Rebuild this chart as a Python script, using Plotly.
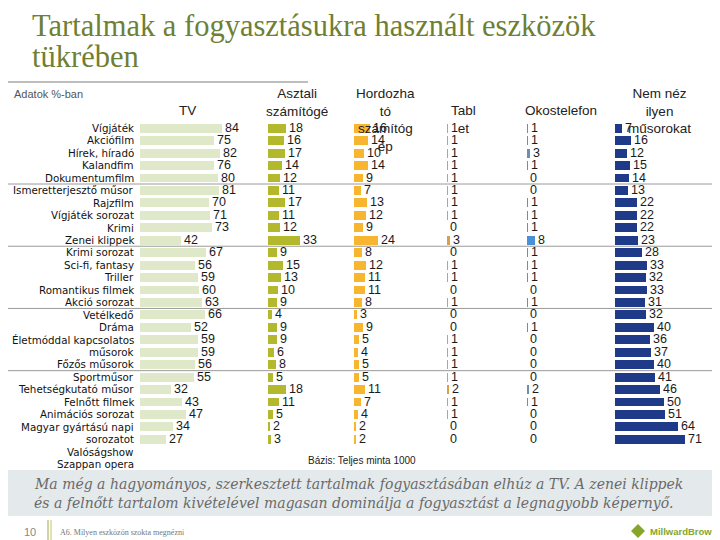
import plotly.graph_objects as go

# ---- data ----
label_lines = ["Vígjáték", "Akciófilm", "Hírek, híradó", "Kalandfim", "Dokumentumfilm",
               "Ismeretterjesztő műsor", "Rajzfilm", "Vígjáték sorozat", "Krimi", "Zenei klippek",
               "Krimi sorozat", "Sci-fi, fantasy", "Triller", "Romantikus filmek", "Akció sorozat",
               "Vetélkedő", "Dráma", "Életmóddal kapcsolatos", "műsorok", "Főzős műsorok",
               "Sportműsor", "Tehetségkutató műsor", "Felnőtt filmek", "Animációs sorozat",
               "Magyar gyártású napi", "sorozatot", "Valóságshow", "Szappan opera"]

tv = [84, 75, 82, 76, 80, 81, 70, 71, 73, 42, 67, 56, 59, 60, 63, 66, 52, 59, 59, 56, 55, 32, 43, 47, 34, 27]
asztali = [18, 16, 17, 14, 12, 11, 17, 11, 12, 33, 9, 15, 13, 10, 9, 4, 9, 9, 6, 8, 5, 18, 11, 5, 2, 3]
hordozhato = [16, 14, 10, 14, 9, 7, 13, 12, 9, 24, 8, 12, 11, 11, 8, 3, 9, 5, 4, 5, 5, 11, 7, 4, 2, 2]
tablet = [1, 1, 1, 1, 1, 1, 1, 1, 0, 3, 0, 1, 1, 0, 1, 0, 0, 1, 1, 1, 1, 2, 1, 1, 0, 0]
okostelefon = [1, 1, 3, 1, 0, 0, 1, 1, 1, 8, 1, 1, 1, 0, 1, 0, 1, 0, 0, 0, 0, 2, 1, 0, 0, 0]
nem_nez = [7, 16, 12, 15, 14, 13, 22, 22, 22, 23, 28, 33, 32, 33, 31, 32, 40, 36, 37, 40, 41, 46, 50, 51, 64, 71]

series = [
    ("TV", tv, "#dfe8c9"),
    ("Asztali számítógép", asztali, "#b3b82c"),
    ("Hordozható számítógép", hordozhato, "#f8b630"),
    ("Tablet", tablet, "#d9a04c"),
    ("Okostelefon", okostelefon, "#6a8fb2"),
    ("Nem néz ilyen műsorokat", nem_nez, "#1f3a89"),
]

# ---- layout geometry (pixels) ----
W, H = 720, 540
PX_PER_UNIT = 0.98
col_start = [132, 260, 346, 439, 519, 607]
col_width = [126, 80, 88, 76, 84, 110]
row_top_px = 120 - 6.22
row_bot_px = 456 + 6.22

fig = go.Figure()
rows = list(range(len(tv)))
for i, (name, vals, color) in enumerate(series):
    ax = "x" if i == 0 else f"x{i+1}"
    colors = color
    if name == "Okostelefon":
        colors = ["#4a90d9" if v >= 5 else color for v in vals]
    fig.add_trace(go.Bar(
        x=vals, y=rows, orientation="h", name=name,
        xaxis=ax, yaxis="y",
        marker=dict(color=colors, line=dict(width=0)),
        width=0.72,
        text=[str(v) for v in vals], textposition="outside",
        constraintext="none", cliponaxis=False,
        textfont=dict(family="Liberation Sans, Arial", size=12.5, color="#1a1a1a"),
        hoverinfo="skip", showlegend=False,
    ))

layout_axes = {}
for i in range(6):
    key = "xaxis" if i == 0 else f"xaxis{i+1}"
    s, w = col_start[i], col_width[i]
    layout_axes[key] = dict(
        domain=[s / W, (s + w) / W], range=[0, w / PX_PER_UNIT],
        visible=False, fixedrange=True, anchor="y",
    )

fig.update_layout(
    width=W, height=H,
    margin=dict(l=0, r=0, t=0, b=0),
    paper_bgcolor="white", plot_bgcolor="rgba(0,0,0,0)",
    bargap=0,
    yaxis=dict(domain=[1 - row_bot_px / H, 1 - row_top_px / H],
               range=[27.5, -0.5], visible=False, fixedrange=True),
    **layout_axes,
)

anns = []
# category labels (text lines; last lines run past the bars as in the original)
for i, lab in enumerate(label_lines):
    anns.append(dict(x=128 / W, xref="paper", xanchor="right", y=i, yref="y",
                     text=lab, showarrow=False,
                     font=dict(family="DejaVu Sans, Verdana", size=10.3, color="#111")))

hdr_font = dict(family="Liberation Sans, Arial", size=13.5, color="#222")
def hdr(x, ytop, text):
    anns.append(dict(x=x / W, y=1 - ytop / H, xref="paper", yref="paper",
                     xanchor="center", yanchor="top", text=text, showarrow=False,
                     font=hdr_font, align="center"))
hdr(179, 93, "TV")
hdr(289, 76, "Asztali<br>számítógé")
hdr(377, 76, "Hordozha<br>tó<br>számítóg<br>ép")
hdr(455, 93, "Tabl<br>et")
hdr(553, 93, "Okostelefon")
hdr(651, 76, "Nem néz<br>ilyen<br>műsorokat")

anns.append(dict(x=4 / W, y=1 - 86 / H, xref="paper", yref="paper", xanchor="left",
                 yanchor="middle", text="Adatok %-ban", showarrow=False,
                 font=dict(family="Liberation Sans, Arial", size=11, color="#555")))
anns.append(dict(x=298 / W, y=1 - 452 / H, xref="paper", yref="paper", xanchor="left",
                 yanchor="middle", text="Bázis: Teljes minta 1000", showarrow=False,
                 font=dict(family="Liberation Sans, Arial", size=10, color="#222")))
# title (two lines placed separately for tight leading)
title_font = dict(family="Liberation Serif, Times New Roman", size=30.5, color="#6f7f33")
for txt, yc in [("Tartalmak a fogyasztásukra használt eszközök", 18), ("tükrében", 49)]:
    anns.append(dict(x=22 / W, y=1 - yc / H, xref="paper", yref="paper", xanchor="left",
                     yanchor="middle", align="left", text=txt, showarrow=False,
                     font=title_font))
# bottom message
msg_font = dict(family="DejaVu Serif, Liberation Serif", size=14, color="#6a6a6a")
for txt, yc in [("Ma még a hagyományos, szerkesztett tartalmak fogyasztásában elhúz a TV. A zenei klippek", 476),
                ("és a felnőtt tartalom kivételével magasan dominálja a fogyasztást a legnagyobb képernyő.", 495)]:
    anns.append(dict(x=24 / W, y=1 - yc / H, xref="paper", yref="paper", xanchor="left",
                     yanchor="middle", align="left", text=f"<i>{txt}</i>", showarrow=False,
                     font=msg_font))
# footer
anns.append(dict(x=22 / W, y=1 - 524 / H, xref="paper", yref="paper", xanchor="center",
                 yanchor="middle", text="10", showarrow=False,
                 font=dict(family="Liberation Sans, Arial", size=11, color="#888")))
anns.append(dict(x=50 / W, y=1 - 524 / H, xref="paper", yref="paper", xanchor="left",
                 yanchor="middle", text="A6. Milyen eszközön szokta megnézni", showarrow=False,
                 font=dict(family="Liberation Serif", size=8, color="#777")))
anns.append(dict(x=712 / W, y=1 - 523 / H, xref="paper", yref="paper", xanchor="right",
                 yanchor="middle", text="<b>MillwardBrown</b>", showarrow=False,
                 font=dict(family="Liberation Sans Narrow, Liberation Sans", size=9.5, color="#86a62a")))
fig.update_layout(annotations=anns)

shapes = []
# separator lines
for yb in [4.5, 9.5, 14.5, 19.5]:
    shapes.append(dict(type="line", xref="paper", yref="y", x0=0, x1=710 / W, y0=yb, y1=yb,
                       line=dict(color="#9a9a9a", width=1)))
# title underline
shapes.append(dict(type="line", xref="paper", yref="paper", x0=0, x1=300 / W,
                   y0=1 - 74 / H, y1=1 - 74 / H, line=dict(color="#a8a8a8", width=1.5)))
# bottom band
shapes.append(dict(type="rect", xref="paper", yref="paper", x0=0, x1=1,
                   y0=1 - 508 / H, y1=1 - 462 / H, fillcolor="#e4e9eb", line=dict(width=0),
                   layer="below"))
# footer divider
shapes.append(dict(type="line", xref="paper", yref="paper", x0=40 / W, x1=40 / W,
                   y0=0, y1=1 - 512 / H, line=dict(color="#9aa84a", width=1)))
shapes.append(dict(type="line", xref="paper", yref="paper", x0=43 / W, x1=43 / W,
                   y0=0, y1=1 - 512 / H, line=dict(color="#c9c06a", width=1)))
# logo diamond
cx, cy = 630, 523
shapes.append(dict(type="path", xref="paper", yref="paper",
                   path=f"M {(cx-7)/W},{1-cy/H} L {cx/W},{1-(cy-7)/H} L {(cx+7)/W},{1-cy/H} L {cx/W},{1-(cy+7)/H} Z",
                   fillcolor="#86a62a", line=dict(width=0)))
fig.update_layout(shapes=shapes)

fig.write_html("out.html")
